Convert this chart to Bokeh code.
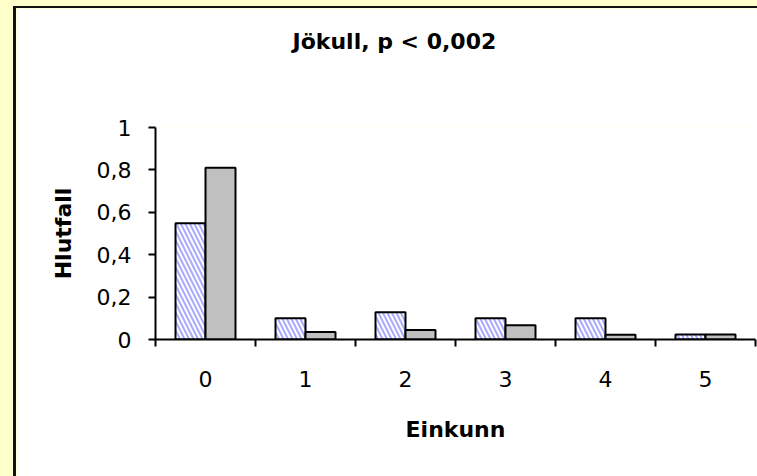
from bokeh.plotting import figure
from bokeh.models import ColumnDataSource, FixedTicker, Range1d, Title
from bokeh.transform import dodge
from bokeh.embed import file_html
from bokeh.resources import INLINE

# ---- data ----
categories = [0, 1, 2, 3, 4, 5]
cat_labels = ["0", "1", "2", "3", "4", "5"]
series_hatched = [0.548, 0.10, 0.128, 0.10, 0.10, 0.024]
series_gray = [0.81, 0.035, 0.045, 0.067, 0.022, 0.024]
y_ticks = [0, 0.2, 0.4, 0.6, 0.8, 1.0]
y_tick_labels = ["0", "0,2", "0,4", "0,6", "0,8", "1"]
title_text = "Jökull, p < 0,002"
x_title = "Einkunn"
y_title = "Hlutfall"

BAR_W = 0.3
FONT = "DejaVu Sans"
W, H = 745, 472

src = ColumnDataSource(dict(x=categories, a=series_hatched, b=series_gray))

p = figure(width=W, height=H, output_backend="svg", toolbar_location=None,
           x_range=Range1d(-0.5, 5.5), y_range=Range1d(0, 1),
           min_border_left=139, min_border_right=W - 736, min_border_top=119,
           min_border_bottom=H - 329, background_fill_color="white",
           border_fill_color="white")

p.vbar(x=dodge("x", -BAR_W / 2, range=p.x_range), top="a", width=BAR_W, source=src,
       fill_color="white", line_color="black", line_width=2,
       hatch_pattern="left_diagonal_line", hatch_color="#9494ff",
       hatch_weight=2, hatch_scale=9, hatch_alpha=0.8)
p.vbar(x=dodge("x", BAR_W / 2, range=p.x_range), top="b", width=BAR_W, source=src,
       fill_color="#C0C0C0", line_color="black", line_width=2)

p.xgrid.visible = False
p.ygrid.visible = False
p.outline_line_color = None

# spacer (closest to frame) and the real title above it
spacer = Title(text=" ", standoff=40, text_font=FONT, text_font_size="22px")
main_title = Title(text=title_text, align="left", offset=137, vertical_align="top",
                   standoff=10, text_font=FONT, text_font_size="22px",
                   text_font_style="bold", text_color="black")
p.add_layout(spacer, "above")
p.add_layout(main_title, "above")

xa = p.xaxis[0]
xa.ticker = FixedTicker(ticks=categories,
                        minor_ticks=[c - 0.5 for c in categories] + [categories[-1] + 0.5])
xa.major_label_overrides = {c: l for c, l in zip(categories, cat_labels)}
xa.major_tick_out = 0
xa.major_tick_in = 0
xa.minor_tick_out = 7
xa.minor_tick_in = 0
xa.minor_tick_line_color = "black"
xa.minor_tick_line_width = 2
xa.major_label_standoff = 24
xa.axis_label = x_title
xa.axis_label_standoff = 27

ya = p.yaxis[0]
ya.ticker = FixedTicker(ticks=y_ticks, minor_ticks=[])
ya.major_label_overrides = {float(t): l for t, l in zip(y_ticks, y_tick_labels)}
ya.major_tick_out = 7
ya.major_tick_in = 0
ya.major_label_standoff = 17
ya.axis_label = y_title
ya.axis_label_standoff = 18

for ax in (xa, ya):
    ax.axis_line_color = "black"
    ax.axis_line_width = 2
    ax.major_tick_line_color = "black"
    ax.major_tick_line_width = 2
    ax.major_label_text_font = FONT
    ax.major_label_text_font_size = "22px"
    ax.major_label_text_color = "black"
    ax.axis_label_text_font = FONT
    ax.axis_label_text_font_size = "22px"
    ax.axis_label_text_font_style = "bold"
    ax.axis_label_text_color = "black"

p.styles = {"box-sizing": "content-box", "margin-left": "13px", "margin-top": "6px",
            "border-left": "3px solid #111", "border-top": "2px solid #111"}

html = file_html(p, INLINE)
html = html.replace("</head>",
                    "<style>html, body { background: #FFFFCC; overflow: hidden; }</style></head>", 1)
open("out.html", "w").write(html)
